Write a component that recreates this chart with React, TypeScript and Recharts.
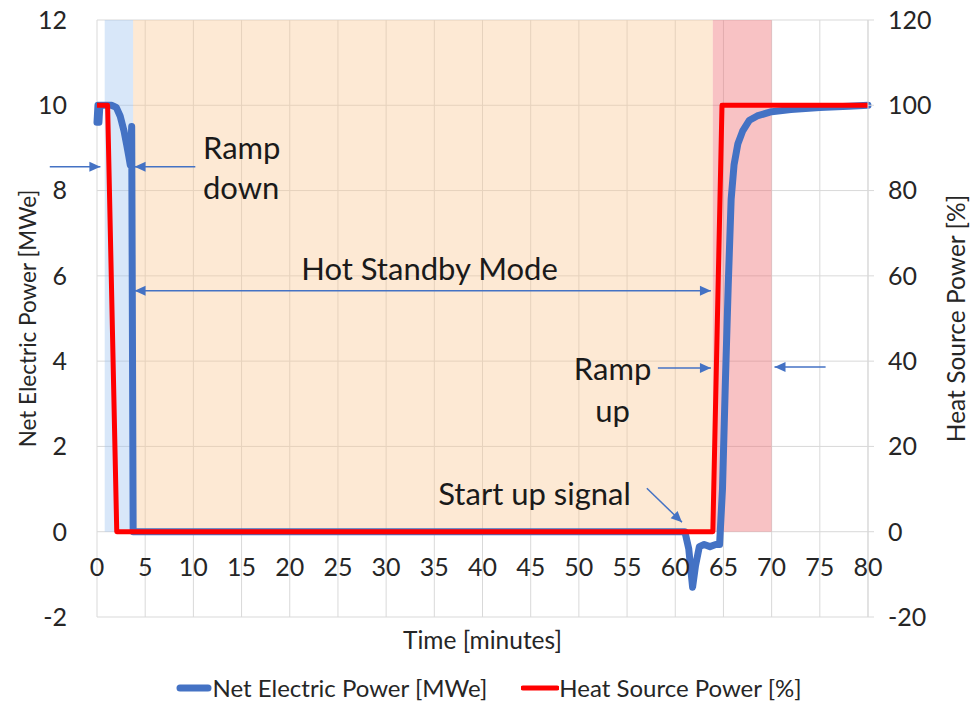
import React from "react";
import {
  ComposedChart,
  Line,
  XAxis,
  YAxis,
  CartesianGrid,
  ReferenceArea,
  ReferenceLine,
  ReferenceDot,
  Legend,
} from "recharts";

// net electric power (MWe), left axis
const elecTime = [
  0, 0.1, 0.2, 0.3, 0.5, 1.0, 1.5, 2.0, 2.4, 2.8, 3.1, 3.3, 3.45, 3.6, 3.75, 10, 30, 50, 61.0,
  61.4, 61.8, 62.1, 62.5, 63.0, 63.6, 64.2, 64.6, 64.9, 65.2, 65.5, 65.8, 66.1, 66.5, 67.0,
  67.7, 68.5, 70, 72, 75, 78, 80,
];
const elecPower = [
  9.6, 10, 9.6, 10, 10, 10, 10, 9.95, 9.75, 9.4, 9.05, 8.8, 8.6, 9.5, 0, 0, 0, 0, 0, -0.4, -1.3,
  -0.8, -0.35, -0.3, -0.35, -0.3, -0.3, 1.0, 3.5, 5.8, 7.8, 8.6, 9.1, 9.4, 9.65, 9.75, 9.85,
  9.9, 9.95, 9.98, 10,
];

// heat source power (%), right axis
const heatTime = [0, 1.1, 2.05, 30, 63.9, 64.85, 80];
const heatPower = [100, 100, 0, 0, 0, 100, 100];

const xTicks = [0, 5, 10, 15, 20, 25, 30, 35, 40, 45, 50, 55, 60, 65, 70, 75, 80];
const leftTicks = [-2, 0, 2, 4, 6, 8, 10, 12];
const rightTicks = [-20, 0, 20, 40, 60, 80, 100, 120];

// shaded phases [start, end] in minutes
const rampDownBand = [0.8, 3.75];
const standbyBand = [3.75, 63.9];
const rampUpBand = [63.9, 70];

// annotation texts: [text, minutes, MWe, anchor]
const notes: [string, number, number, string][] = [
  ["Ramp", 11.0, 9.03, "start"],
  ["down", 11.0, 8.09, "start"],
  ["Hot Standby Mode", 34.5, 6.19, "middle"],
  ["Ramp", 53.5, 3.84, "middle"],
  ["up", 53.5, 2.85, "middle"],
  ["Start up signal", 45.4, 0.91, "middle"],
];

// arrows: [x1, y1, x2, y2, double-headed]
const arrows: [number, number, number, number, boolean][] = [
  [-4.9, 8.56, 0.35, 8.56, false],
  [10.2, 8.56, 3.9, 8.56, false],
  [3.9, 5.65, 63.7, 5.65, true],
  [58.2, 3.84, 63.7, 3.84, false],
  [75.6, 3.86, 70.3, 3.86, false],
  [57.05, 1.02, 60.7, 0.22, false],
];

const elecData = elecTime.map((t, i) => ({ t, elec: elecPower[i] }));
const heatData = heatTime.map((t, i) => ({ t, heat: heatPower[i] }));

const FONT = "Lato, 'Open Sans', sans-serif";
const BLUE = "#4472c4";
const RED = "#ff0000";
const INK = "#262626";

const head = (x: number, y: number, ang: number) => {
  const len = 11;
  const w = 5;
  const bx = x - len * Math.cos(ang);
  const by = y - len * Math.sin(ang);
  const px = -Math.sin(ang) * w;
  const py = Math.cos(ang) * w;
  return `${x},${y} ${bx + px},${by + py} ${bx - px},${by - py}`;
};

const arrowShape = (both: boolean) => (p: any) => {
  const { x1, y1, x2, y2 } = p;
  const ang = Math.atan2(y2 - y1, x2 - x1);
  return (
    <g>
      <line x1={x1} y1={y1} x2={x2} y2={y2} stroke={BLUE} strokeWidth={1.5} />
      <polygon points={head(x2, y2, ang)} fill={BLUE} />
      {both && <polygon points={head(x1, y1, ang + Math.PI)} fill={BLUE} />}
    </g>
  );
};

const XTick = (p: any) => (
  <text x={p.x} y={p.y - 43} textAnchor="middle" fontSize={25} fill={INK} fontFamily={FONT}>
    {p.payload.value}
  </text>
);

const LegendContent = () => (
  <div
    style={{
      height: 50,
      display: "flex",
      justifyContent: "center",
      alignItems: "flex-end",
      fontFamily: FONT,
      fontSize: 24,
      color: INK,
      lineHeight: "26px",
    }}
  >
    <span style={{ display: "flex", alignItems: "center", marginRight: 34, whiteSpace: "nowrap" }}>
      <svg width={36} height={10}>
        <line x1={4} y1={5} x2={32} y2={5} stroke={BLUE} strokeWidth={7} strokeLinecap="round" />
      </svg>
      Net Electric Power [MWe]
    </span>
    <span style={{ display: "flex", alignItems: "center", whiteSpace: "nowrap" }}>
      <svg width={38} height={10}>
        <line x1={2} y1={5} x2={36} y2={5} stroke={RED} strokeWidth={5} strokeLinecap="round" />
      </svg>
      Heat Source Power [%]
    </span>
  </div>
);

export default function App() {
  return (
    <div style={{ position: "absolute", left: 0, top: 0, background: "#fff" }}>
      <ComposedChart
        width={978}
        height={701}
        margin={{ top: 20, right: 0, left: 0, bottom: 0 }}
        style={{ fontFamily: FONT }}
      >
        <CartesianGrid stroke="#d9d9d9" strokeWidth={1} yAxisId="left" />
        <XAxis
          dataKey="t"
          type="number"
          domain={[0, 80]}
          ticks={xTicks}
          allowDuplicatedCategory={false}
          axisLine={false}
          tickLine={false}
          tickSize={0}
          height={34}
          tick={<XTick />}
          label={{
            value: "Time [minutes]",
            position: "insideBottom",
            offset: 2,
            fontSize: 24.5,
            fill: INK,
            fontFamily: FONT,
          }}
        />
        <YAxis
          yAxisId="left"
          domain={[-2, 12]}
          ticks={leftTicks}
          width={97}
          axisLine={false}
          tickLine={false}
          tickMargin={24}
          tick={{ fontSize: 25, fill: INK, fontFamily: FONT }}
          label={{
            value: "Net Electric Power [MWe]",
            angle: -90,
            position: "insideLeft",
            offset: 28,
            fontSize: 22.5,
            fill: INK,
            fontFamily: FONT,
            style: { textAnchor: "middle" },
          }}
        />
        <YAxis
          yAxisId="right"
          orientation="right"
          domain={[-20, 120]}
          ticks={rightTicks}
          width={110}
          axisLine={{ stroke: "#d9d9d9" }}
          tickLine={{ stroke: "#d9d9d9" }}
          tickSize={6}
          tickMargin={14}
          tick={{ fontSize: 25, fill: INK, fontFamily: FONT }}
          label={{
            value: "Heat Source Power [%]",
            angle: -90,
            position: "insideRight",
            offset: 22,
            fontSize: 24.5,
            fill: INK,
            fontFamily: FONT,
            style: { textAnchor: "middle" },
          }}
        />
        <Legend verticalAlign="bottom" content={<LegendContent />} />

        <ReferenceArea yAxisId="left" x1={rampDownBand[0]} x2={rampDownBand[1]} y1={0} y2={12} fill="#9dc3f0" fillOpacity={0.4} />
        <ReferenceArea yAxisId="left" x1={standbyBand[0]} x2={standbyBand[1]} y1={0} y2={12} fill="#fac893" fillOpacity={0.4} />
        <ReferenceArea yAxisId="left" x1={rampUpBand[0]} x2={rampUpBand[1]} y1={0} y2={12} fill="#ee6e73" fillOpacity={0.42} />

        <Line
          yAxisId="left"
          data={elecData}
          dataKey="elec"
          type="linear"
          stroke={BLUE}
          strokeWidth={7}
          strokeLinejoin="round"
          strokeLinecap="round"
          dot={false}
          isAnimationActive={false}
          name="Net Electric Power [MWe]"
        />
        <Line
          yAxisId="right"
          data={heatData}
          dataKey="heat"
          type="linear"
          stroke={RED}
          strokeWidth={5}
          strokeLinejoin="round"
          dot={false}
          isAnimationActive={false}
          name="Heat Source Power [%]"
        />

        {arrows.map(([x1, y1, x2, y2, both], i) => (
          <ReferenceLine
            key={`a${i}`}
            yAxisId="left"
            segment={[
              { x: x1, y: y1 },
              { x: x2, y: y2 },
            ]}
            ifOverflow="visible"
            shape={arrowShape(both)}
          />
        ))}
        {notes.map(([txt, x, y, anchor], i) => (
          <ReferenceDot
            key={`n${i}`}
            yAxisId="left"
            x={x}
            y={y}
            r={0}
            ifOverflow="visible"
            shape={(p: any) => (
              <text
                x={p.cx}
                y={p.cy}
                textAnchor={anchor}
                dominantBaseline="central"
                fontSize={31}
                fill="#1a1a1a"
                fontFamily={FONT}
              >
                {txt}
              </text>
            )}
          />
        ))}
      </ComposedChart>
    </div>
  );
}
